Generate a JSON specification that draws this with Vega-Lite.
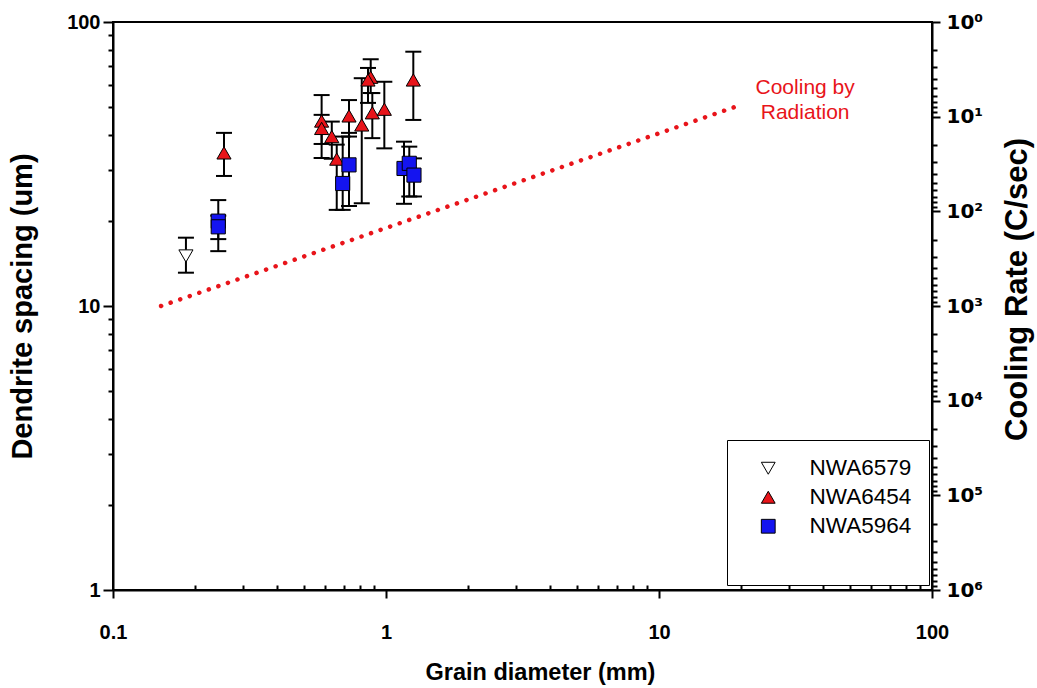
{
  "$schema": "https://vega.github.io/schema/vega-lite/v6.json",
  "width": 819,
  "height": 568,
  "autosize": {"type": "none"},
  "padding": {"left": 113, "top": 22, "right": 105, "bottom": 98},
  "background": "white",
  "config": {
    "view": {"stroke": "black", "strokeWidth": 2},
    "axis": {
      "grid": false,
      "domainColor": "black",
      "domainWidth": 2,
      "tickColor": "black",
      "tickWidth": 2,
      "labelColor": "black",
      "titleColor": "black",
      "labelFontWeight": "bold",
      "titleFontWeight": "bold",
      "labelFont": "Liberation Sans",
      "titleFont": "Liberation Sans"
    }
  },
  "datasets": {
    "pts": [
      {"sample": "NWA6454", "x": 0.255, "y": 34.6, "lo": 28.7, "hi": 40.7},
      {"sample": "NWA6454", "x": 0.581, "y": 44.8, "lo": 37.2, "hi": 55.3},
      {"sample": "NWA6454", "x": 0.581, "y": 42.2, "lo": 33.2, "hi": 47.1},
      {"sample": "NWA6454", "x": 0.633, "y": 39.5, "lo": 33.0, "hi": 44.6},
      {"sample": "NWA6454", "x": 0.66, "y": 32.9, "lo": 21.8, "hi": 37.0},
      {"sample": "NWA6454", "x": 0.732, "y": 46.7, "lo": 39.5, "hi": 53.1},
      {"sample": "NWA6454", "x": 0.815, "y": 43.4, "lo": 23.0, "hi": 63.4},
      {"sample": "NWA6454", "x": 0.879, "y": 63.9, "lo": 56.2, "hi": 73.9},
      {"sample": "NWA6454", "x": 0.859, "y": 62.5, "lo": 51.9, "hi": 68.9},
      {"sample": "NWA6454", "x": 0.891, "y": 47.9, "lo": 39.0, "hi": 56.2},
      {"sample": "NWA6454", "x": 0.986, "y": 49.3, "lo": 35.9, "hi": 61.6},
      {"sample": "NWA6454", "x": 1.259, "y": 62.5, "lo": 45.2, "hi": 78.6},
      {"sample": "NWA5964", "x": 0.243, "y": 19.9, "lo": 15.6, "hi": 23.6},
      {"sample": "NWA5964", "x": 0.243, "y": 19.0, "lo": 17.2, "hi": 20.8},
      {"sample": "NWA5964", "x": 0.694, "y": 27.0, "lo": 21.8, "hi": 39.5},
      {"sample": "NWA5964", "x": 0.732, "y": 31.4, "lo": 22.5, "hi": 40.7},
      {"sample": "NWA5964", "x": 1.164, "y": 30.5, "lo": 22.9, "hi": 37.9},
      {"sample": "NWA5964", "x": 1.217, "y": 31.8, "lo": 24.3, "hi": 36.4},
      {"sample": "NWA5964", "x": 1.266, "y": 28.9, "lo": 24.3, "hi": 33.1},
      {"sample": "NWA6579", "x": 0.185, "y": 15.0, "lo": 13.1, "hi": 17.4}
    ],
    "radiation": [
      {"x": 0.15, "y": 10.0},
      {"x": 20.0, "y": 51.1}
    ],
    "note": [
      {"x": 34.3, "y": 58.5, "label": "Cooling by\nRadiation"}
    ],
    "cooling": [
      {"c": 1},
      {"c": 1000000}
    ]
  },
  "layer": [
    {
      "encoding": {
        "x": {
          "field": "x",
          "type": "quantitative",
          "scale": {"type": "log", "domain": [0.1, 100]},
          "axis": {
            "title": "Grain diameter (mm)",
            "values": [0.1, 0.2, 0.3, 0.4, 0.5, 0.6, 0.7, 0.8, 0.9, 1, 2, 3, 4, 5, 6, 7, 8, 9, 10, 20, 30, 40, 50, 60, 70, 80, 90, 100],
            "labelExpr": "abs(log(datum.value)/LN10 - round(log(datum.value)/LN10)) < 0.001 ? '' + datum.value : ''",
            "tickSize": {"condition": {"test": "abs(log(datum.value)/LN10 - round(log(datum.value)/LN10)) < 0.001", "value": 8}, "value": -5},
            "labelFontSize": 20,
            "labelPadding": 24,
            "labelFlush": false,
            "labelOverlap": false,
            "titleFontSize": 23.5,
            "titlePadding": 18,
            "titleX": 427
          }
        }
      },
      "layer": [
        {
          "data": {"name": "radiation"},
          "mark": {"type": "line", "color": "#e8141a", "strokeWidth": 4.5, "strokeDash": [0.1, 10], "strokeCap": "round"},
          "encoding": {
            "y": {
              "field": "y",
              "type": "quantitative",
              "title": "Dendrite spacing (um)",
              "scale": {"type": "log", "domain": [1, 100]},
              "axis": {
                "title": "Dendrite spacing (um)",
                "values": [1, 2, 3, 4, 5, 6, 7, 8, 9, 10, 20, 30, 40, 50, 60, 70, 80, 90, 100],
                "labelExpr": "abs(log(datum.value)/LN10 - round(log(datum.value)/LN10)) < 0.001 ? '' + datum.value : ''",
                "tickSize": {"condition": {"test": "abs(log(datum.value)/LN10 - round(log(datum.value)/LN10)) < 0.001", "value": 10}, "value": 5},
                "labelFontSize": 20,
                "labelPadding": 3,
                "labelFlush": false,
                "labelOverlap": false,
                "titleFontSize": 29,
                "titlePadding": 29
              }
            }
          }
        },
        {
          "data": {"name": "pts"},
          "mark": {"type": "rule", "color": "black", "strokeWidth": 2},
          "encoding": {
            "y": {"field": "lo", "type": "quantitative", "title": "Dendrite spacing (um)"},
            "y2": {"field": "hi"}
          }
        },
        {
          "data": {"name": "pts"},
          "mark": {"type": "tick", "orient": "horizontal", "color": "black", "size": 16, "thickness": 2, "opacity": 1},
          "encoding": {
            "y": {"field": "lo", "type": "quantitative", "title": "Dendrite spacing (um)"}
          }
        },
        {
          "data": {"name": "pts"},
          "mark": {"type": "tick", "orient": "horizontal", "color": "black", "size": 16, "thickness": 2, "opacity": 1},
          "encoding": {
            "y": {"field": "hi", "type": "quantitative", "title": "Dendrite spacing (um)"}
          }
        },
        {
          "data": {"name": "pts"},
          "mark": {"type": "point", "filled": true, "stroke": "black", "strokeWidth": 1, "size": 200, "opacity": 1},
          "encoding": {
            "y": {"field": "y", "type": "quantitative", "title": "Dendrite spacing (um)"},
            "fill": {
              "field": "sample",
              "type": "nominal",
              "scale": {"domain": ["NWA6579", "NWA6454", "NWA5964"], "range": ["white", "#e8141a", "#1414f0"]},
              "legend": {
                "title": " ",
                "titleOrient": "bottom",
                "titleFontSize": 20,
                "titlePadding": 10,
                "orient": "none",
                "legendX": 614,
                "legendY": 418,
                "padding": 17,
                "strokeColor": "black",
                "fillColor": "white",
                "symbolOffset": 13,
                "labelOffset": 30,
                "labelFontSize": 22.5,
                "labelFont": "Liberation Sans",
                "labelColor": "black",
                "rowPadding": 6,
                "symbolSize": 190,
                "symbolStrokeColor": "black",
                "symbolStrokeWidth": 1
              }
            },
            "shape": {
              "field": "sample",
              "type": "nominal",
              "scale": {"domain": ["NWA6579", "NWA6454", "NWA5964"], "range": ["triangle-down", "triangle-up", "square"]},
              "legend": {
                "title": " ",
                "titleOrient": "bottom",
                "orient": "none",
                "legendX": 614,
                "legendY": 418
              }
            }
          }
        },
        {
          "data": {"name": "note"},
          "mark": {"type": "text", "color": "#e8141a", "fontSize": 21, "font": "Liberation Sans", "lineBreak": "\n", "lineHeight": 25, "align": "center", "baseline": "middle"},
          "encoding": {
            "y": {"field": "y", "type": "quantitative", "title": "Dendrite spacing (um)"},
            "text": {"field": "label"}
          }
        }
      ]
    },
    {
      "data": {"name": "cooling"},
      "mark": {"type": "point", "opacity": 0},
      "encoding": {
        "y": {
          "field": "c",
          "type": "quantitative",
          "scale": {"type": "log", "domain": [1, 1000000], "reverse": true},
          "axis": {
            "orient": "right",
            "title": "Cooling Rate (C/sec)",
            "values": [1, 2, 3, 4, 5, 6, 7, 8, 9, 10, 20, 30, 40, 50, 60, 70, 80, 90, 100, 200, 300, 400, 500, 600, 700, 800, 900, 1000, 2000, 3000, 4000, 5000, 6000, 7000, 8000, 9000, 10000, 20000, 30000, 40000, 50000, 60000, 70000, 80000, 90000, 100000, 200000, 300000, 400000, 500000, 600000, 700000, 800000, 900000, 1000000],
            "labelExpr": "abs(log(datum.value)/LN10 - round(log(datum.value)/LN10)) < 0.001 ? '10' + ['⁰','¹','²','³','⁴','⁵','⁶'][round(log(datum.value)/LN10)] : ''",
            "tickSize": {"condition": {"test": "abs(log(datum.value)/LN10 - round(log(datum.value)/LN10)) < 0.001", "value": 8}, "value": 5},
            "labelFont": "DejaVu Sans",
            "labelFontSize": 20,
            "labelPadding": 6,
            "labelFlush": false,
            "labelOverlap": false,
            "titleFontSize": 31,
            "titleAngle": 270,
            "titleBaseline": "top",
            "titlePadding": 20,
            "titleY": 267
          }
        }
      }
    }
  ],
  "resolve": {"scale": {"y": "independent"}, "axis": {"y": "independent"}}
}
